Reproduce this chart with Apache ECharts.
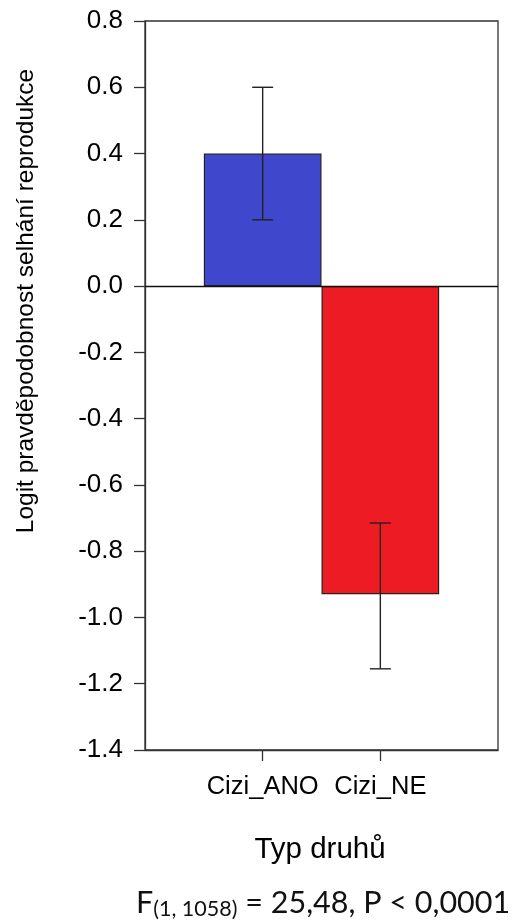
<!DOCTYPE html>
<html>
<head>
<meta charset="utf-8">
<script src="https://cdn.jsdelivr.net/npm/echarts@6/dist/echarts.min.js"></script>
<style>
html,body{margin:0;padding:0;background:#fff;}
#chart{width:513px;height:922px;}
</style>
</head>
<body>
<div id="chart"></div>
<script>
// ---- data ----
var categories = ['Cizi_ANO', 'Cizi_NE'];
var values = [0.40, -0.93];
var errLow = [0.20, -1.155];
var errHigh = [0.60, -0.715];
var barColors = ['#3F48CC', '#ED1C24'];
var yTicks = [-1.4, -1.2, -1.0, -0.8, -0.6, -0.4, -0.2, 0.0, 0.2, 0.4, 0.6, 0.8];
var yAxisTitle = 'Logit pravděpodobnost selhání reprodukce';
var xAxisTitle = 'Typ druhů';
var statText = { f: 'F', sub: '(1, 1058)', rest: ' = 25,48, P < 0,0001' };

var W = 513, H = 922;
var G = { left: 145, right: 15, top: 21, bottom: 172 };
var bandPx = (W - G.left - G.right) / (categories.length + 1);
var font = '"Liberation Sans", Arial, sans-serif';
var font2 = 'Lato, "Open Sans", sans-serif';

var chart = echarts.init(document.getElementById('chart'), null, { renderer: 'canvas' });

var barData = values.map(function (v, i) {
  return { value: [i + 1, v], itemStyle: { color: barColors[i] } };
});
var errData = values.map(function (v, i) { return [i + 1, errLow[i], errHigh[i]]; });
var catPos = categories.map(function (c, i) { return i + 1; });

chart.setOption({
  animation: false,
  backgroundColor: '#fff',
  grid: { left: G.left, right: G.right, top: G.top, bottom: G.bottom, show: true, borderColor: '#333', borderWidth: 1.3, backgroundColor: 'transparent' },
  xAxis: {
    type: 'value', min: 0, max: categories.length + 1, interval: 1,
    axisLine: { show: true, onZero: false, lineStyle: { color: '#333', width: 1.3 } },
    axisTick: { show: true, customValues: catPos, length: 11, lineStyle: { color: '#333', width: 1.3 } },
    axisLabel: {
      customValues: catPos, margin: 24,
      formatter: function (v) { return categories[Math.round(v) - 1] || ''; },
      fontSize: 25.5, fontFamily: font, color: '#000'
    },
    splitLine: { show: false }
  },
  yAxis: {
    type: 'value', min: yTicks[0], max: yTicks[yTicks.length - 1], interval: 0.2,
    axisLine: { show: true, onZero: false, lineStyle: { color: '#333', width: 1.3 } },
    axisTick: { show: true, length: 11, lineStyle: { color: '#333', width: 1.3 } },
    axisLabel: {
      margin: 22, fontSize: 26, fontFamily: font, color: '#000',
      formatter: function (v) { return v.toFixed(1); }
    },
    splitLine: { show: false }
  },
  series: [
    {
      type: 'bar', data: barData, barWidth: bandPx,
      itemStyle: { borderColor: '#222', borderWidth: 1.2 },
      markLine: {
        silent: true, symbol: ['none', 'none'], label: { show: false },
        lineStyle: { color: '#111', type: 'solid', width: 1.3 },
        data: [{ yAxis: 0 }]
      },
      z: 2
    },
    {
      type: 'custom', z: 5,
      data: errData,
      renderItem: function (params, api) {
        var x = api.value(0);
        var lo = api.coord([x, api.value(1)]);
        var hi = api.coord([x, api.value(2)]);
        var cap = 10.5;
        var st = { stroke: '#222', lineWidth: 1.4 };
        return {
          type: 'group',
          children: [
            { type: 'line', shape: { x1: lo[0], y1: lo[1], x2: hi[0], y2: hi[1] }, style: st },
            { type: 'line', shape: { x1: lo[0] - cap, y1: lo[1], x2: lo[0] + cap, y2: lo[1] }, style: st },
            { type: 'line', shape: { x1: hi[0] - cap, y1: hi[1], x2: hi[0] + cap, y2: hi[1] }, style: st }
          ]
        };
      }
    }
  ],
  graphic: [
    {
      type: 'text', x: 26, y: 301, rotation: Math.PI / 2,
      style: { text: yAxisTitle, fontSize: 24.5, fontFamily: font, fill: '#000', align: 'center', verticalAlign: 'middle' }
    },
    {
      type: 'text', x: 320, y: 850,
      style: { text: xAxisTitle, fontSize: 29.5, fontFamily: font, fill: '#000', align: 'center', verticalAlign: 'middle' }
    },
    {
      type: 'text', x: 136, y: 903,
      style: {
        text: '{a|' + statText.f + '}{b|' + statText.sub + '}{a|' + statText.rest + '}',
        align: 'left', verticalAlign: 'middle',
        rich: {
          a: { fontSize: 30.5, fontFamily: font2, fill: '#111' },
          b: { fontSize: 21.5, fontFamily: font2, fill: '#111', padding: [12, 0, 0, 0] }
        }
      }
    }
  ]
});
</script>
</body>
</html>
